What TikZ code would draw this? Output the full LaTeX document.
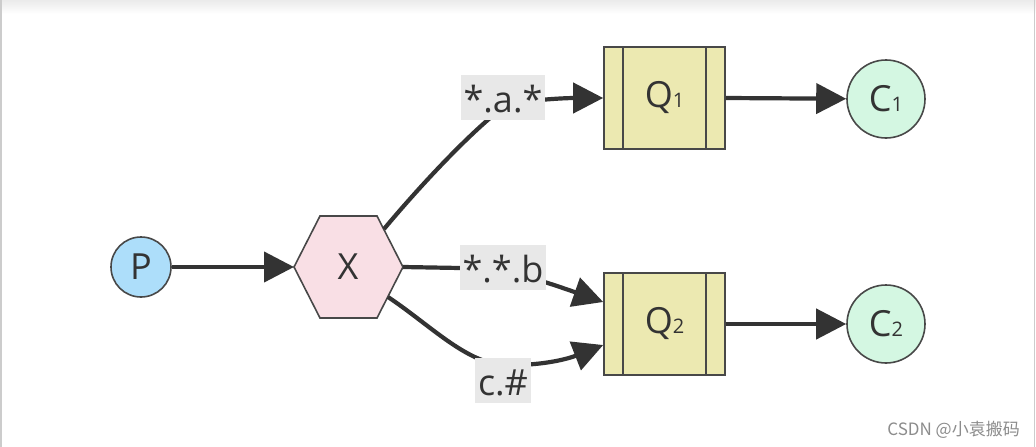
\documentclass[tikz,border=0pt]{standalone}
\usepackage{fontspec}
\setmainfont{Open Sans}[Kerning=Off]
\newfontfamily\cjk{Noto Sans CJK SC}
\usetikzlibrary{arrows.meta}
\definecolor{pfill}{RGB}{173,222,250}
\definecolor{xfill}{RGB}{249,223,229}
\definecolor{qfill}{RGB}{236,233,177}
\definecolor{cfill}{RGB}{212,247,226}
\definecolor{strk}{RGB}{72,72,72}
\definecolor{edge}{RGB}{51,51,51}
\definecolor{txt}{RGB}{51,51,51}
\definecolor{lbl}{RGB}{232,232,232}
\newcommand{\sm}[1]{{\fontsize{20}{20}\selectfont #1}}
\tikzset{
  base/.style={draw=strk, line width=1.6pt, text=txt, font=\fontsize{36}{36}\selectfont, inner sep=0pt},
  circ/.style={base, circle, minimum size=#1},
  queue/.style={base, rectangle, fill=qfill, minimum width=121pt, minimum height=102pt},
  arr/.style={draw=edge, line width=4.2pt, -{Triangle[length=30pt,width=30pt]}},
  elabel/.style={fill=lbl, text=txt, font=\fontsize{36}{36}\selectfont, inner xsep=3pt, inner ysep=4pt, text height=33pt, text depth=4pt}
}
\begin{document}
\begin{tikzpicture}[x=1pt,y=-1pt]
\useasboundingbox (0,0) rectangle (1036,447);
\fill[white] (0,0) rectangle (1036,447);
\shade[top color=black!8, bottom color=white] (0,0) rectangle (1036,14);
\draw[black!20, line width=1.5pt] (0.75,0) -- (0.75,447);
\draw[black!20, line width=1.5pt] (1034.5,0) -- (1034.5,447);

% nodes
\node[circ=60pt, fill=pfill] (P) at (141,267) {P};
\draw[base, fill=xfill] (294,267) coordinate (xl) -- (320,216) -- (377,216) -- (403,267) coordinate (xr)
   -- (377,318) -- (320,318) -- cycle;
\node[font=\fontsize{36}{36}\selectfont, text=txt] (X) at (348,267) {X};
\coordinate (xa) at (384,229);
\coordinate (xc) at (388,297);
\node[queue] (Q1) at (664.5,98) {Q\sm{1}};
\node[queue] (Q2) at (664.5,324) {Q\sm{2}};
\foreach \q in {Q1,Q2}{
  \draw[strk, line width=1.6pt] ([xshift=20pt]\q.north west) -- ([xshift=20pt]\q.south west);
  \draw[strk, line width=1.6pt] ([xshift=-20pt]\q.north east) -- ([xshift=-20pt]\q.south east);
}
\node[circ=78pt, fill=cfill] (C1) at (886,99) {C\sm{1}};
\node[circ=78pt, fill=cfill] (C2) at (886,324) {C\sm{2}};

% edges
\draw[arr] (P) -- (xl);
\draw[arr] (xa) .. controls (425,180) and (475,128) .. (505,106) .. controls (530,99) and (570,98) .. (Q1.west);
\draw[arr] (xr) -- (460,268) .. controls (505,268) and (540,280) .. ([yshift=22pt]Q2.west);
\draw[arr] (xc) .. controls (430,325) and (465,362) .. (503,365) .. controls (545,366) and (570,358) .. ([yshift=-21pt]Q2.west);
\draw[arr] (Q1.east) -- (C1);
\draw[arr] (Q2.east) -- (C2);

% edge labels
\node[elabel, minimum width=80pt] (la) at (503,97.5) {*.a.*};
\node[elabel, minimum width=80pt] (lb) at (503,267.5) {*.*.b};
\node[elabel, minimum width=55pt] (lc) at (503,380.5) {c.\#};

% watermark
\node[anchor=east, text=black!45, font=\cjk\fontsize{17}{17}\selectfont, inner sep=0pt] (wm) at (1020,430) {CSDN @小袁搬码};
\end{tikzpicture}
\end{document}
